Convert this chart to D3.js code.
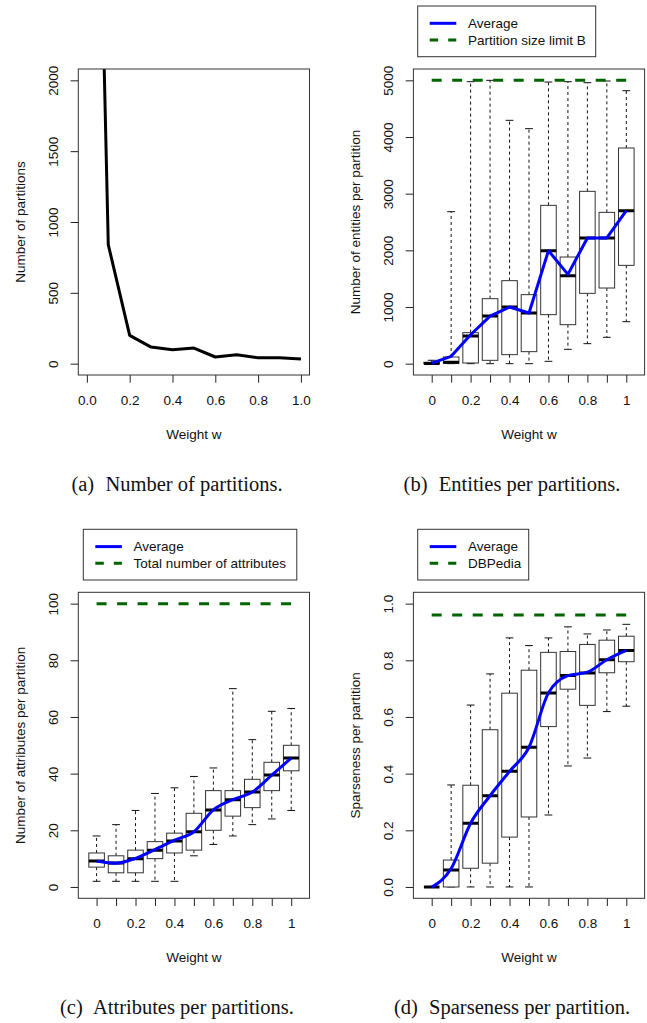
<!DOCTYPE html>
<html>
<head>
<meta charset="utf-8">
<script src="https://cdn.jsdelivr.net/npm/d3@7"></script>
<style>
	body { margin: 0; background: #fff; }
	svg text { font-family: "Liberation Sans", Arial, sans-serif; fill: #111; }
	svg text.caption { font-family: "Liberation Serif", "Times New Roman", serif; }
</style>
</head>
<body>
<svg id="fig" width="647" height="1023"></svg>
<script>
// Weight w on the x axis of every panel.
const weights = [0, 0.1, 0.2, 0.3, 0.4, 0.5, 0.6, 0.7, 0.8, 0.9, 1];
const boxTickLabels = ['0', '', '0.2', '', '0.4', '', '0.6', '', '0.8', '', '1'];

// (a) Number of partitions.
const partitionCount = [7400, 840, 200, 117, 99, 110, 47, 63, 42, 42, 33];

// (b) Entities per partition.
const entLow = [0, 0, 0, 0, 0, 0, 41, 253, 353, 465, 741];
const entQ1 = [0, 5, 12, 59, 159, 212, 865, 688, 1241, 1335, 1735];
const entMed = [5, 24, 488, 841, 1000, 894, 1994, 1553, 2218, 2218, 2700];
const entQ3 = [25, 118, 547, 1147, 1465, 1218, 2794, 1882, 3041, 2670, 3806];
const entHigh = [60, 2682, 4976, 5000, 4294, 4147, 4970, 4976, 4959, 4988, 4817];
const entMean = [10, 130, 510, 840, 1000, 894, 1994, 1576, 2218, 2218, 2700];
const partitionLimit = 5000;

// (c) Attributes per partition.
const attLow = [2, 2, 2, 2, 2, 11, 15, 18, 22, 24, 27];
const attQ1 = [7, 5, 5, 10, 12, 13, 20, 25, 28, 34, 41];
const attMed = [9.2, 8.5, 10, 13, 16.2, 19.5, 27.2, 30.8, 33.5, 39.5, 45.5];
const attQ3 = [12, 11, 13, 16, 19, 26, 34, 34, 38, 44, 50];
const attHigh = [18, 22, 27, 33, 35, 39, 42, 70, 52, 62, 63];
const attMean = [9.2, 8.4, 10.1, 13.2, 16.5, 19.5, 27.2, 30.8, 33.5, 39.5, 45.5];
const totalAttributes = 100;

// (d) Sparseness per partition.
const spLow = [0, 0, 0, 0, 0, 0, 0.254, 0.427, 0.455, 0.619, 0.638];
const spQ1 = [0, 0, 0.066, 0.084, 0.176, 0.247, 0.566, 0.698, 0.641, 0.756, 0.795];
const spMed = [0, 0.06, 0.225, 0.322, 0.408, 0.493, 0.685, 0.746, 0.755, 0.802, 0.835];
const spQ3 = [0, 0.095, 0.359, 0.555, 0.684, 0.765, 0.828, 0.831, 0.856, 0.871, 0.885];
const spHigh = [0, 0.36, 0.642, 0.752, 0.879, 0.852, 0.879, 0.918, 0.893, 0.907, 0.927];
const spMean = [0, 0.065, 0.225, 0.322, 0.408, 0.493, 0.685, 0.746, 0.758, 0.802, 0.835];
const dbpediaSparseness = 0.96;

const svg = d3.select('#fig');

// Plot region size, same for all four panels.
const W = 231.2;
const H = 306;
const FONT = 13.5;
const TICK = 7.7;
const ROW2 = 523.3;

const BLUE = '#0000ff';
const GREEN = '#006400';

/**
 * Frame, axes and titles of one panel. Returns the group and y scale.
 */
function panel(x0, y0, yDomain, yTicks, yFmt, yTitle, x, xTicks, xFmt) {
	const g = svg.append('g').attr('transform', `translate(${x0},${y0})`);
	const y = d3.scaleLinear().domain(yDomain).range([H, 0]);

	const clipId = `clip-${Math.round(x0)}-${Math.round(y0)}`;
	g.append('clipPath').attr('id', clipId).append('rect').attr('width', W).attr('height', H);

	const yAxis = g
		.append('g')
		.call(d3.axisLeft(y).tickValues(yTicks).tickSize(TICK).tickFormat(yFmt))
		.attr('color', '#222')
		.attr('font-size', FONT)
		.attr('font-family', null);
	yAxis.select('.domain').remove();
	yAxis
		.selectAll('text')
		.attr('x', null)
		.attr('dy', '0.35em')
		.attr('text-anchor', 'middle')
		.attr('transform', 'translate(-25,0) rotate(-90)');

	const xAxis = g
		.append('g')
		.attr('transform', `translate(0,${H})`)
		.call(d3.axisBottom(x).tickValues(xTicks).tickSize(TICK).tickFormat(xFmt))
		.attr('color', '#222')
		.attr('font-size', FONT)
		.attr('font-family', null);
	xAxis.select('.domain').remove();
	xAxis.selectAll('text').attr('y', 25).attr('dy', '0.35em');

	g.append('text')
		.attr('text-anchor', 'middle')
		.attr('font-size', FONT)
		.attr('dy', '0.35em')
		.attr('transform', `translate(-58.5,${H / 2}) rotate(-90)`)
		.text(yTitle);

	g.append('text')
		.attr('text-anchor', 'middle')
		.attr('font-size', FONT)
		.attr('x', W / 2)
		.attr('y', H + 59)
		.attr('dy', '0.35em')
		.text('Weight w');

	const body = g.append('g').attr('clip-path', `url(#${clipId})`);

	return { g, body, y };
}

function frameBox(g) {
	g.append('rect')
		.attr('width', W)
		.attr('height', H)
		.attr('fill', 'none')
		.attr('stroke', '#333')
		.attr('stroke-width', 1);
}

/**
 * R style boxplot with dashed whiskers, a blue average line and a green dashed limit.
 */
function boxPanel(x0, y0, stats, mean, limit, yDomain, yTicks, yFmt, yTitle) {
	const x = d3.scaleLinear().domain([0.06, 11.94]).range([0, W]);
	const pos = weights.map((_, i) => i + 1);
	const { g, body, y } = panel(x0, y0, yDomain, yTicks, yFmt, yTitle, x, pos, (d, i) => boxTickLabels[i]);

	const bw = x(1.4) - x(1);
	const rows = pos.map((p, i) => ({
		p,
		lo: stats[0][i],
		q1: stats[1][i],
		med: stats[2][i],
		q3: stats[3][i],
		hi: stats[4][i],
	}));

	const box = body.selectAll('g.box').data(rows).join('g').attr('class', 'box');

	// Whiskers.
	box.selectAll('line.whisker')
		.data(d => [
			[d.p, d.q3, d.hi],
			[d.p, d.q1, d.lo],
		])
		.join('line')
		.attr('class', 'whisker')
		.attr('x1', d => x(d[0]))
		.attr('x2', d => x(d[0]))
		.attr('y1', d => y(d[1]))
		.attr('y2', d => y(d[2]))
		.attr('stroke', '#111')
		.attr('stroke-width', 1)
		.attr('stroke-dasharray', '3,3');

	// Staples.
	box.selectAll('line.staple')
		.data(d => [
			[d.p, d.hi],
			[d.p, d.lo],
		])
		.join('line')
		.attr('class', 'staple')
		.attr('x1', d => x(d[0]) - bw / 2)
		.attr('x2', d => x(d[0]) + bw / 2)
		.attr('y1', d => y(d[1]))
		.attr('y2', d => y(d[1]))
		.attr('stroke', '#111')
		.attr('stroke-width', 1);

	box.append('rect')
		.attr('x', d => x(d.p) - bw)
		.attr('width', 2 * bw)
		.attr('y', d => y(d.q3))
		.attr('height', d => Math.max(0, y(d.q1) - y(d.q3)))
		.attr('fill', '#fff')
		.attr('stroke', '#333')
		.attr('stroke-width', 1);

	box.append('line')
		.attr('x1', d => x(d.p) - bw)
		.attr('x2', d => x(d.p) + bw)
		.attr('y1', d => y(d.med))
		.attr('y2', d => y(d.med))
		.attr('stroke', '#000')
		.attr('stroke-width', 3);

	body.append('path')
		.datum(mean)
		.attr('fill', 'none')
		.attr('stroke', BLUE)
		.attr('stroke-width', 3)
		.attr('stroke-linejoin', 'round')
		.attr('d', d3.line().x((d, i) => x(pos[i])).y(d => y(d)).curve(limit.curve));

	body.append('line')
		.attr('x1', x(1))
		.attr('x2', x(11))
		.attr('y1', y(limit.value))
		.attr('y2', y(limit.value))
		.attr('stroke', GREEN)
		.attr('stroke-width', 3)
		.attr('stroke-dasharray', '10,10.5');

	frameBox(g);
	return g;
}

function legend(x0, y0, w, labels) {
	const g = svg.append('g').attr('transform', `translate(${x0},${y0})`);
	g.append('rect')
		.attr('width', w)
		.attr('height', 50.7)
		.attr('fill', '#fff')
		.attr('stroke', '#333')
		.attr('stroke-width', 1);

	const items = [
		{ label: labels[0], color: BLUE, dash: null },
		{ label: labels[1], color: GREEN, dash: '8.5,10' },
	];
	const row = g
		.selectAll('g.item')
		.data(items)
		.join('g')
		.attr('transform', (d, i) => `translate(0,${17.3 + i * 16.7})`);
	row.append('line')
		.attr('x1', 12)
		.attr('x2', 38.6)
		.attr('stroke', d => d.color)
		.attr('stroke-width', 3)
		.attr('stroke-dasharray', d => d.dash);
	row.append('text')
		.attr('x', 50.3)
		.attr('dy', '0.35em')
		.attr('font-size', FONT)
		.text(d => d.label);
}

function caption(cx, cy, tag, text) {
	svg.append('text')
		.attr('class', 'caption')
		.attr('x', cx)
		.attr('y', cy)
		.attr('text-anchor', 'middle')
		.attr('font-size', 20.5)
		.call(t => {
			t.append('tspan').text(tag);
			t.append('tspan').attr('dx', '0.3em').text(' ' + text);
		});
}

// (a)
{
	const x = d3.scaleLinear().domain([-0.04, 1.04]).range([0, W]);
	const { g, body, y } = panel(
		78.3,
		69,
		[-80, 2080],
		[0, 500, 1000, 1500, 2000],
		d3.format('d'),
		'Number of partitions',
		x,
		[0, 0.2, 0.4, 0.6, 0.8, 1],
		d3.format('.1f')
	);
	body.append('path')
		.datum(partitionCount)
		.attr('fill', 'none')
		.attr('stroke', '#000')
		.attr('stroke-width', 3)
		.attr('stroke-linejoin', 'round')
		.attr('d', d3.line().x((d, i) => x(weights[i])).y(d => y(d)));
	frameBox(g);
}

// (b)
boxPanel(
	413.4,
	69,
	[entLow, entQ1, entMed, entQ3, entHigh],
	entMean,
	{ value: partitionLimit, curve: d3.curveLinear },
	[-200, 5200],
	[0, 1000, 2000, 3000, 4000, 5000],
	d3.format('d'),
	'Number of entities per partition'
);
legend(417.7, 6, 178, ['Average', 'Partition size limit B']);

// (c)
boxPanel(
	78.3,
	69 + ROW2,
	[attLow, attQ1, attMed, attQ3, attHigh],
	attMean,
	{ value: totalAttributes, curve: d3.curveMonotoneX },
	[-4, 104],
	[0, 20, 40, 60, 80, 100],
	d3.format('d'),
	'Number of attributes per partition'
);
legend(83.3, 6 + ROW2, 213.5, ['Average', 'Total number of attributes']);

// (d)
boxPanel(
	413.4,
	69 + ROW2,
	[spLow, spQ1, spMed, spQ3, spHigh],
	spMean,
	{ value: dbpediaSparseness, curve: d3.curveMonotoneX },
	[-0.04, 1.04],
	[0, 0.2, 0.4, 0.6, 0.8, 1],
	d3.format('.1f'),
	'Sparseness per partition'
);
legend(417.7, 6 + ROW2, 111, ['Average', 'DBPedia']);

caption(177, 491, '(a)', 'Number of partitions.');
caption(512, 491, '(b)', 'Entities per partitions.');
caption(177, 491 + ROW2, '(c)', 'Attributes per partitions.');
caption(512, 491 + ROW2, '(d)', 'Sparseness per partition.');
</script>
</body>
</html>
